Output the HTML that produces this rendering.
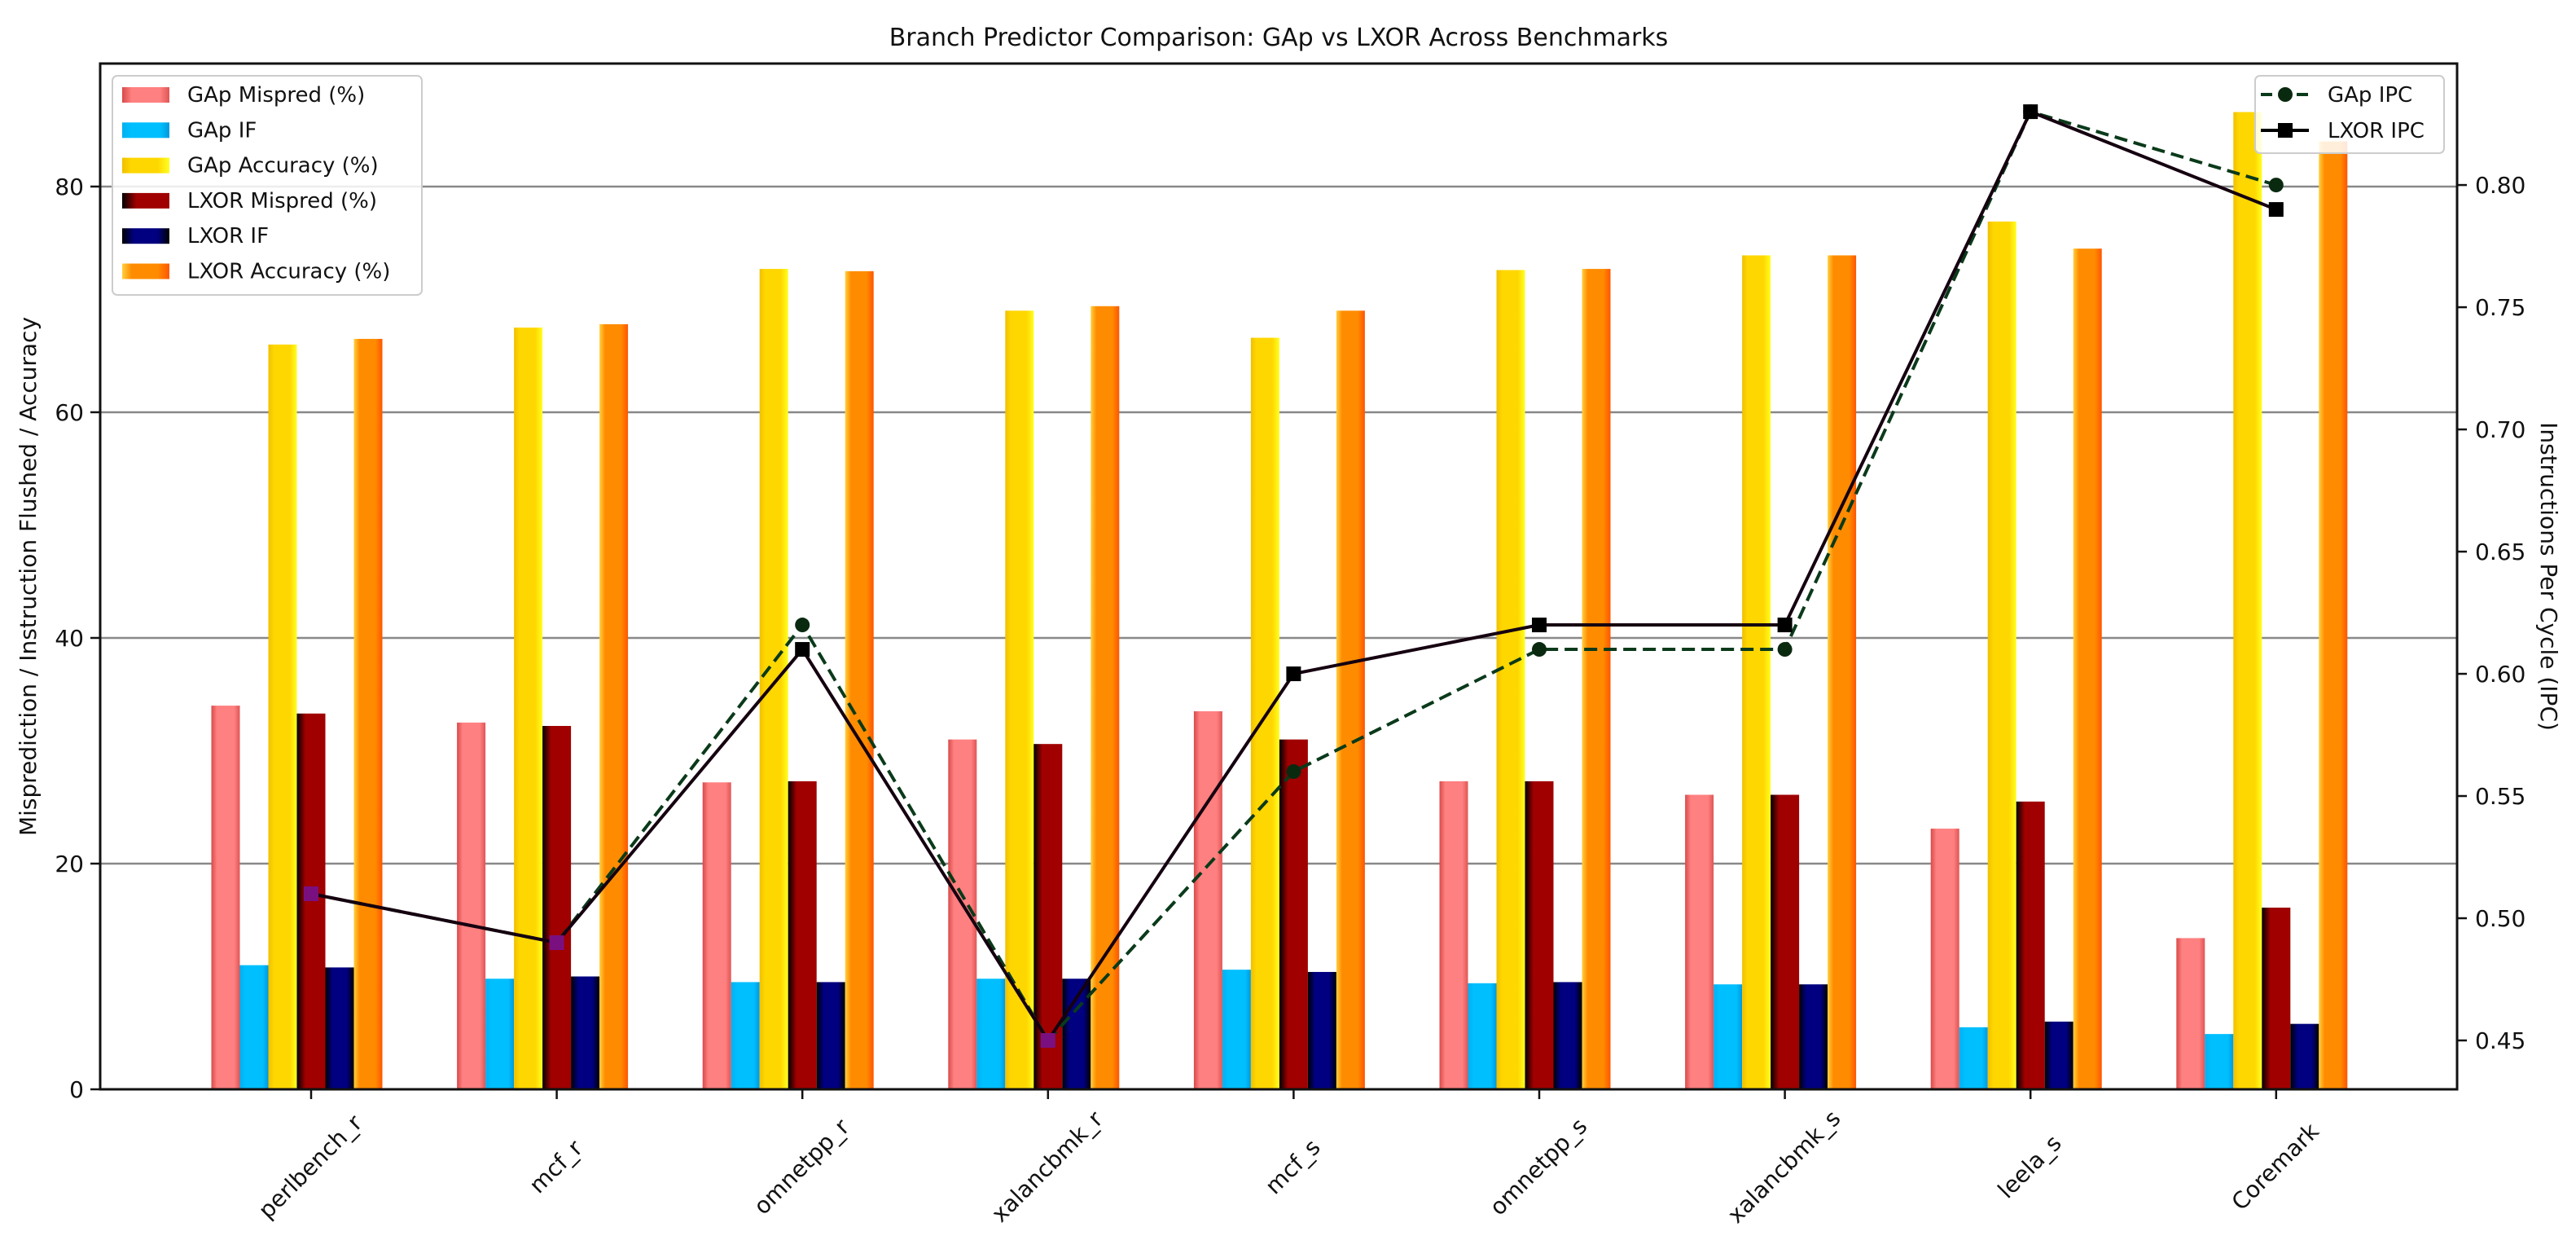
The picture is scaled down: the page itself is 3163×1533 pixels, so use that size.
<!DOCTYPE html>
<html><head><meta charset="utf-8">
<style>
html,body{margin:0;padding:0;background:#fff;}
svg{display:block;font-family:"DejaVu Sans","Liberation Sans",sans-serif;}
</style></head>
<body>
<svg id="chart" width="3163" height="1533" viewBox="0 0 3163 1533" xmlns="http://www.w3.org/2000/svg">
<defs>
 <linearGradient id="g0" x1="0" x2="1" y1="0" y2="0"><stop offset="0" stop-color="#d84a4a"/><stop offset="0.2" stop-color="#ff8080"/><stop offset="0.8" stop-color="#ff8080"/><stop offset="1" stop-color="#e05555"/></linearGradient>
 <linearGradient id="g1" x1="0" x2="1" y1="0" y2="0"><stop offset="0" stop-color="#00b0f0"/><stop offset="0.2" stop-color="#00bfff"/><stop offset="0.8" stop-color="#00bfff"/><stop offset="1" stop-color="#0099dd"/></linearGradient>
 <linearGradient id="g2" x1="0" x2="1" y1="0" y2="0"><stop offset="0" stop-color="#f0c000"/><stop offset="0.2" stop-color="#ffd700"/><stop offset="0.75" stop-color="#ffd700"/><stop offset="1" stop-color="#ffff20"/></linearGradient>
 <linearGradient id="g3" x1="0" x2="1" y1="0" y2="0"><stop offset="0" stop-color="#000"/><stop offset="0.3" stop-color="#a00000"/><stop offset="1" stop-color="#a00000"/></linearGradient>
 <linearGradient id="g4" x1="0" x2="1" y1="0" y2="0"><stop offset="0" stop-color="#000"/><stop offset="0.25" stop-color="#000080"/><stop offset="0.75" stop-color="#000080"/><stop offset="1" stop-color="#000"/></linearGradient>
 <linearGradient id="g5" x1="0" x2="1" y1="0" y2="0"><stop offset="0" stop-color="#ffd040"/><stop offset="0.2" stop-color="#ff8c00"/><stop offset="0.75" stop-color="#ff8c00"/><stop offset="1" stop-color="#ff5500"/></linearGradient>
</defs>
<g id="grid"></g>
<g id="bars"></g>
<g id="lines"></g>
<g id="axes"></g>
<g id="legends"></g>
</svg>
<script>
const categories = ["perlbench_r","mcf_r","omnetpp_r","xalancbmk_r","mcf_s","omnetpp_s","xalancbmk_s","leela_s","Coremark"];
const gapMispred = [34.0,32.5,27.2,31.0,33.5,27.3,26.1,23.1,13.4];
const gapIF = [11.0,9.8,9.5,9.8,10.6,9.4,9.3,5.5,4.9];
const gapAcc = [66.0,67.5,72.7,69.0,66.6,72.6,73.9,76.9,86.6];
const lxorMispred = [33.3,32.2,27.3,30.6,31.0,27.3,26.1,25.5,16.1];
const lxorIF = [10.8,10.0,9.5,9.8,10.4,9.5,9.3,6.0,5.8];
const lxorAcc = [66.5,67.8,72.5,69.4,69.0,72.7,73.9,74.5,84.0];
const gapIPC = [0.51,0.49,0.62,0.45,0.56,0.61,0.61,0.83,0.80];
const lxorIPC = [0.51,0.49,0.61,0.45,0.60,0.62,0.62,0.83,0.79];
const leftTicks = [0,20,40,60,80];
const rightTicks = [0.45,0.50,0.55,0.60,0.65,0.70,0.75,0.80];
const barSeriesNames = ["GAp Mispred (%)","GAp IF","GAp Accuracy (%)","LXOR Mispred (%)","LXOR IF","LXOR Accuracy (%)"];

const NS="http://www.w3.org/2000/svg";
const L=123,R=3017,T=78,B=1337;
const yL=v=>B-(v-0)/(90.9-0)*(B-T);
const yR=v=>B-(v-0.43)/(0.8497-0.43)*(B-T);
const step=(R-L)/ (categories.length) ;
const xC=i=>382+i*301.6;
const bw=35;
function mk(tag,attrs,parent){const e=document.createElementNS(NS,tag);for(const k in attrs)e.setAttribute(k,attrs[k]);(parent||document.getElementById('chart')).appendChild(e);return e;}
const grid=document.getElementById('grid'),bars=document.getElementById('bars'),lines=document.getElementById('lines'),axes=document.getElementById('axes'),legends=document.getElementById('legends');

// grid
leftTicks.forEach(v=>{if(v===0)return;const g=mk('line',{x1:L,x2:R,y1:yL(v),y2:yL(v),stroke:'#888','stroke-width':2.5},grid);

});

// bars
const series=[gapMispred,gapIF,gapAcc,lxorMispred,lxorIF,lxorAcc];
series.forEach((arr,s)=>{arr.forEach((v,i)=>{
 const x=xC(i)+(s-3)*bw-bw/2;
 const r=mk('rect',{x:x,y:yL(v),width:bw,height:yL(0)-yL(v),fill:'url(#g'+s+')'},bars);
 
 
});});

// lines
const pg=gapIPC.map((v,i)=>xC(i)+','+yR(v)).join(' ');
const pl=lxorIPC.map((v,i)=>xC(i)+','+yR(v)).join(' ');
const lg=mk('polyline',{points:pg,fill:'none',stroke:'#0a3a1a','stroke-width':4,'stroke-dasharray':'16,8'},lines);


const ll=mk('polyline',{points:pl,fill:'none',stroke:'#150010','stroke-width':4},lines);


gapIPC.forEach((v,i)=>{const same=v===lxorIPC[i]&&v<0.55;
 const c=mk('circle',{cx:xC(i),cy:yR(v),r:9,fill:same?'#7a1080':'#0a2a10'},lines);
 
 });
lxorIPC.forEach((v,i)=>{const same=v===gapIPC[i]&&v<0.55;
 const c=mk('rect',{x:xC(i)-9,y:yR(v)-9,width:18,height:18,fill:same?'#7a1080':'#000'},lines);
 
 });

// axes frame
const fr=mk('rect',{x:L,y:T,width:R-L,height:B-T,fill:'none',stroke:'#111','stroke-width':3},axes);


leftTicks.forEach(v=>{
 mk('line',{x1:L-12,x2:L,y1:yL(v),y2:yL(v),stroke:'#111','stroke-width':2.5},axes);
 const t=mk('text',{x:L-20,y:yL(v)+10,'text-anchor':'end','font-size':28,fill:'#111'},axes);t.textContent=v;
 
 });
rightTicks.forEach(v=>{
 mk('line',{x1:R,x2:R+12,y1:yR(v),y2:yR(v),stroke:'#111','stroke-width':2.5},axes);
 const t=mk('text',{x:R+22,y:yR(v)+10,'font-size':28,fill:'#111'},axes);t.textContent=v.toFixed(2);
 
 });
categories.forEach((c,i)=>{
 mk('line',{x1:xC(i),x2:xC(i),y1:B,y2:B+12,stroke:'#111','stroke-width':2.5},axes);
 const t=mk('text',{x:xC(i),y:1433,'text-anchor':'middle','dominant-baseline':'middle','font-size':28,fill:'#111',transform:'rotate(-45 '+xC(i)+' 1433)'},axes);t.textContent=c;
 
 });
const ttl=mk('text',{x:(L+R)/2,y:56,'text-anchor':'middle','font-size':30,fill:'#111'},axes);ttl.textContent='Branch Predictor Comparison: GAp vs LXOR Across Benchmarks';


const yl=mk('text',{x:44,y:(T+B)/2,'text-anchor':'middle','font-size':28,fill:'#111',transform:'rotate(-90 44 '+((T+B)/2)+')'},axes);yl.textContent='Misprediction / Instruction Flushed / Accuracy';


const yr=mk('text',{x:3120,y:(T+B)/2,'text-anchor':'middle','font-size':28,fill:'#111',transform:'rotate(90 3120 '+((T+B)/2)+')'},axes);yr.textContent='Instructions Per Cycle (IPC)';



// left legend
const lb=mk('rect',{x:138,y:93,width:380,height:269,rx:6,fill:'rgba(255,255,255,0.85)',stroke:'#ccc','stroke-width':2},legends);


barSeriesNames.forEach((n,s)=>{const y=116+s*43.3;
 mk('rect',{x:150,y:y-9,width:58,height:19,fill:'url(#g'+s+')'},legends);
 const t=mk('text',{x:230,y:y+9,'font-size':26,fill:'#111'},legends);t.textContent=n;
 
 });
// right legend
const rb=mk('rect',{x:2769,y:93,width:232,height:95,rx:6,fill:'rgba(255,255,255,0.85)',stroke:'#ccc','stroke-width':2},legends);


mk('line',{x1:2776,x2:2835,y1:116,y2:116,stroke:'#0a3a1a','stroke-width':4,'stroke-dasharray':'14,8'},legends);
mk('circle',{cx:2806,cy:116,r:9,fill:'#0a2a10'},legends);
mk('line',{x1:2776,x2:2835,y1:160,y2:160,stroke:'#000','stroke-width':4},legends);
mk('rect',{x:2797,y:151,width:18,height:18,fill:'#000'},legends);
const t1=mk('text',{x:2858,y:125,'font-size':26,fill:'#111'},legends);t1.textContent='GAp IPC';


const t2=mk('text',{x:2858,y:169,'font-size':26,fill:'#111'},legends);t2.textContent='LXOR IPC';


</script>
</body></html>
